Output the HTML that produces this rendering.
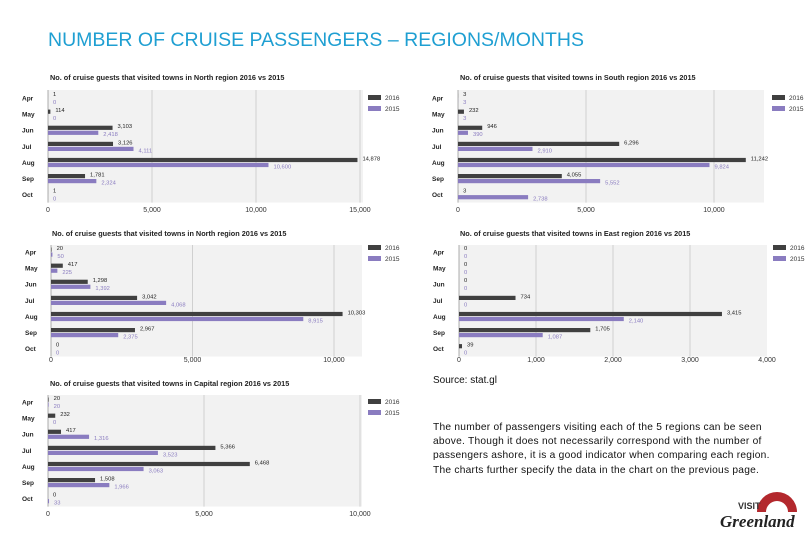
<!DOCTYPE html>
<html><head><meta charset="utf-8">
<style>
body{margin:0;background:#fff;width:810px;height:540px;overflow:hidden;position:relative;font-family:"Liberation Sans",sans-serif}
#title{position:absolute;left:48px;top:29px;font-size:19.5px;color:#1f9fd2;letter-spacing:0px;white-space:nowrap}
#src{position:absolute;left:433px;top:375px;font-size:10px;color:#111}
#para{position:absolute;left:433px;top:421px;font-size:10.2px;line-height:14.2px;color:#111;letter-spacing:0.25px;white-space:nowrap}
svg{position:absolute;left:0;top:0}
</style></head><body>
<div id="title">NUMBER OF CRUISE PASSENGERS – REGIONS/MONTHS</div>
<div id="src">Source: stat.gl</div>
<div id="para">The number of passengers visiting each of the 5 regions can be seen<br>above. Though it does not necessarily correspond with the number of<br>passengers ashore, it is a good indicator when comparing each region.<br>The charts further specify the data in the chart on the previous page.</div>
<svg id="svg" width="810" height="540">
<g>
<path d="M757 512 A20 20 0 1 1 797 512 L788 512 A11 11 0 1 0 766 512 Z" fill="#b3282d"/>
<text x="738" y="509" font-size="9" font-weight="bold" fill="#333" font-family="Liberation Sans,sans-serif">VISIT</text>
<text x="720" y="527" font-size="17" font-style="italic" font-weight="bold" fill="#222" font-family="Liberation Serif,serif">Greenland</text>
</g>
</svg>
<script>
const months=["Apr","May","Jun","Jul","Aug","Sep","Oct"];
const titles=["No. of cruise guests that visited towns in North region 2016 vs 2015","No. of cruise guests that visited towns in South region 2016 vs 2015","No. of cruise guests that visited towns in North region 2016 vs 2015","No. of cruise guests that visited towns in East region 2016 vs 2015","No. of cruise guests that visited towns in Capital region 2016 vs 2015"];
const north2016=[1,114,3103,3126,14878,1781,1];
const north2015=[0,0,2418,4111,10600,2324,0];
const south2016=[3,232,946,6296,11242,4055,3];
const south2015=[3,3,390,2910,9824,5552,2738];
const north2b2016=[20,417,1298,3042,10303,2967,0];
const north2b2015=[50,225,1392,4068,8915,2375,0];
const east2016=[0,0,0,734,3415,1705,39];
const east2015=[0,0,0,0,2140,1087,0];
const capital2016=[20,232,417,5366,6468,1508,0];
const capital2015=[20,0,1316,3523,3063,1966,33];
const ticksA=[0,5000,10000,15000];
const ticksB=[0,5000,10000];
const ticksE=[0,1000,2000,3000,4000];
const legend=["2016","2015"];

const layouts=[
 {x0:48,tx:50,pr:363,max:15000,px:312,ty:80,top:90,r0:98,ax:212,ticks:ticksA,d1:north2016,d2:north2015,lx:368,ly:95,n:"north"},
 {x0:458,tx:460,pr:764,max:10000,px:256,ty:80,top:90,r0:98,ax:212,ticks:ticksB,d1:south2016,d2:south2015,lx:772,ly:95,n:"south"},
 {x0:51,tx:52,pr:362,max:10000,px:283,ty:236,top:245,r0:252,ax:362,ticks:ticksB,d1:north2b2016,d2:north2b2015,lx:368,ly:245,n:"north-2"},
 {x0:459,tx:460,pr:767,max:4000,px:308,ty:236,top:245,r0:252,ax:362,ticks:ticksE,d1:east2016,d2:east2015,lx:773,ly:245,n:"east"},
 {x0:48,tx:50,pr:362,max:10000,px:312,ty:386,top:395,r0:402,ax:516,ticks:ticksB,d1:capital2016,d2:capital2015,lx:368,ly:399,n:"capital"}
];
const svg=document.getElementById('svg');
const NS="http://www.w3.org/2000/svg";
function el(t,a,p){const e=document.createElementNS(NS,t);for(const k in a)e.setAttribute(k,a[k]);(p||svg).appendChild(e);return e;}
function fmt(v){return v.toLocaleString('en-US');}
layouts.forEach((L,i)=>{
 const g=el('g',{});
 
 
 const sx=v=>L.x0+v/L.max*L.px;
 const step=16.1;
 const bottom=L.r0+6*step+8;
 const bg=el('rect',{x:L.x0,y:L.top,width:L.pr-L.x0,height:bottom-L.top,fill:'#f2f2f2'},g);
 
 
 const t=el('text',{x:L.tx,y:L.ty,'font-size':7.3,'font-weight':'bold',fill:'#222'},g);
 t.textContent=titles[i];
 
 
 L.ticks.forEach(v=>{
  if(v>0&&sx(v)<L.pr)el('line',{x1:sx(v),x2:sx(v),y1:L.top,y2:bottom,stroke:'#d0d0d0','stroke-width':1},g);
  const tl=el('text',{x:sx(v),y:L.ax,'font-size':7,'text-anchor':'middle',fill:'#333'},g);
  tl.textContent=fmt(v);
  
  
 });
 el('line',{x1:L.x0,x2:L.x0,y1:L.top,y2:bottom,stroke:'#999','stroke-width':0.8},g);
 months.forEach((m,j)=>{
  const cy=L.r0+j*step;
  const ml=el('text',{x:L.x0-26,y:cy+2.5,'font-size':6.5,'font-weight':'bold',fill:'#222'},g);
  ml.textContent=m;
  
  
  [[L.d1[j],'#404040',cy-4.5,'#222'],[L.d2[j],'#8a7cc0',cy+0.5,'#8a7cc0']].forEach(([v,c,y,tc],k)=>{
   const w=Math.max(v/L.max*L.px,0);
   const b=el('rect',{x:L.x0,y:y,width:w,height:4.2,fill:c},g);
   
   
   const vl=el('text',{x:L.x0+w+5,y:y+(k?5.5:2.5),'font-size':5.8,fill:tc},g);
   vl.textContent=fmt(v);
   
   
  });
 });
 legend.forEach((s,k)=>{
  const lr=el('rect',{x:L.lx,y:L.ly+k*11,width:13,height:5,fill:k?'#8a7cc0':'#404040'},g);
  
  
  const lt=el('text',{x:L.lx+17,y:L.ly+k*11+5,'font-size':6.5,fill:'#333'},g);
  lt.textContent=s;
  
  
 });
});
</script>
</body></html>
